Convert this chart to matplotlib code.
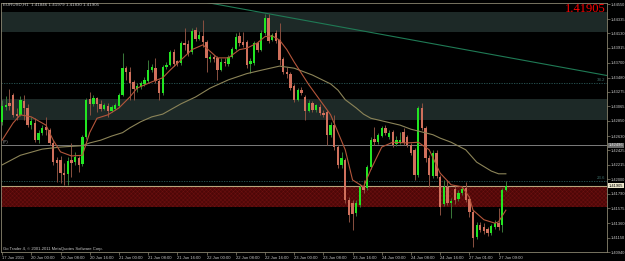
import matplotlib
matplotlib.use("Agg")
import matplotlib.pyplot as plt
import matplotlib.transforms as mtransforms
from matplotlib.patches import Rectangle

symbol_info = "EURUSD,H1  1.41846 1.41979 1.41830 1.41905"
last_price_text = "1.41905"
last_price = 1.41905
copyright_text = "Go Trader 4, \u00a9 2001-2011 MetaQuotes Software Corp."

opens = [1.4284, 1.4305, 1.4311, 1.4323, 1.4295, 1.4294, 1.4314, 1.4304, 1.4279, 1.4282,
         1.4257, 1.4268, 1.4276, 1.4272, 1.4253, 1.4228, 1.4228, 1.4209, 1.4208, 1.4228,
         1.4225, 1.4231, 1.4222, 1.4262, 1.4317, 1.4310, 1.4319, 1.4310, 1.4303, 1.4307,
         1.4300, 1.4303, 1.4307, 1.4323, 1.4362, 1.4356, 1.4342, 1.4332, 1.4335, 1.4339,
         1.4343, 1.4359, 1.4362, 1.4343, 1.4326, 1.4364, 1.4367, 1.4386, 1.4373, 1.4370,
         1.4399, 1.4397, 1.4386, 1.4418, 1.4405, 1.4409, 1.4400, 1.4375, 1.4378, 1.4377,
         1.4359, 1.4371, 1.4368, 1.4378, 1.4390, 1.4409, 1.4400, 1.4400, 1.4368, 1.4370,
         1.4399, 1.4389, 1.4413, 1.4435, 1.4403, 1.4413, 1.4403, 1.4375, 1.4356, 1.4354,
         1.4336, 1.4316, 1.4330, 1.4320, 1.4300, 1.4311, 1.4301, 1.4305, 1.4297, 1.4298,
         1.4265, 1.4279, 1.4247, 1.4221, 1.4228, 1.4170, 1.4165, 1.4151, 1.4163, 1.4190,
         1.4187, 1.4218, 1.4259, 1.4254, 1.4263, 1.4275, 1.4262, 1.4269, 1.4251, 1.4253,
         1.4269, 1.4262, 1.4250, 1.4243, 1.4206, 1.4304, 1.4275, 1.4231, 1.4205, 1.4238,
         1.4203, 1.4164, 1.4189, 1.4165, 1.4186, 1.4171, 1.4180, 1.4187, 1.4171, 1.4152,
         1.4116, 1.4133, 1.4130, 1.4128, 1.4122, 1.4130, 1.4136, 1.4133, 1.41846]
highs = [1.4316, 1.4321, 1.4332, 1.4326, 1.4304, 1.4321, 1.4323, 1.4310, 1.4291, 1.4289,
         1.4272, 1.4279, 1.4291, 1.4275, 1.4257, 1.4233, 1.4234, 1.4224, 1.4233, 1.4253,
         1.4240, 1.4234, 1.4265, 1.4319, 1.4327, 1.4323, 1.4320, 1.4316, 1.4311, 1.4311,
         1.4308, 1.4311, 1.4326, 1.4384, 1.4365, 1.4364, 1.4345, 1.4340, 1.4343, 1.4349,
         1.4374, 1.4368, 1.4377, 1.4346, 1.4367, 1.4371, 1.4389, 1.4390, 1.4374, 1.4402,
         1.4421, 1.4403, 1.4421, 1.4422, 1.4416, 1.4432, 1.4403, 1.4383, 1.4381, 1.4380,
         1.4377, 1.4377, 1.4381, 1.4393, 1.4413, 1.4415, 1.4415, 1.4403, 1.4377, 1.4402,
         1.4402, 1.4418, 1.4441, 1.4441, 1.4413, 1.4418, 1.4428, 1.4378, 1.4364, 1.4356,
         1.4339, 1.4333, 1.4335, 1.4323, 1.4316, 1.4314, 1.4310, 1.4310, 1.4301, 1.4301,
         1.4284, 1.4294, 1.4250, 1.4240, 1.4231, 1.4174, 1.4170, 1.4170, 1.4193, 1.4199,
         1.4221, 1.4262, 1.4276, 1.4268, 1.4278, 1.4279, 1.4272, 1.4272, 1.4263, 1.4269,
         1.4275, 1.4265, 1.4253, 1.4246, 1.4307, 1.4311, 1.4278, 1.4235, 1.4243, 1.4243,
         1.4206, 1.4199, 1.4199, 1.4173, 1.4190, 1.4184, 1.4190, 1.4196, 1.4176, 1.4155,
         1.4138, 1.4138, 1.4136, 1.4130, 1.4135, 1.4141, 1.4158, 1.4187, 1.41979]
lows = [1.4279, 1.4301, 1.4301, 1.4291, 1.4286, 1.4292, 1.4286, 1.4276, 1.4273, 1.4254,
        1.4253, 1.4265, 1.4265, 1.4250, 1.4221, 1.4196, 1.4195, 1.4192, 1.4192, 1.4203,
        1.4221, 1.4211, 1.4219, 1.4259, 1.4294, 1.4307, 1.4298, 1.4300, 1.4301, 1.4291,
        1.4298, 1.4301, 1.4305, 1.4321, 1.4345, 1.4316, 1.4316, 1.4327, 1.4332, 1.4336,
        1.4340, 1.4356, 1.4340, 1.4316, 1.4323, 1.4361, 1.4365, 1.4365, 1.4365, 1.4367,
        1.4389, 1.4380, 1.4383, 1.4402, 1.4403, 1.4393, 1.4356, 1.4371, 1.4371, 1.4345,
        1.4358, 1.4365, 1.4365, 1.4377, 1.4389, 1.4394, 1.4393, 1.4362, 1.4355, 1.4367,
        1.4386, 1.4387, 1.4410, 1.4399, 1.4402, 1.4399, 1.4367, 1.4354, 1.4348, 1.4330,
        1.4313, 1.4314, 1.4323, 1.4286, 1.4298, 1.4298, 1.4298, 1.4294, 1.4291, 1.4250,
        1.4262, 1.4243, 1.4217, 1.4217, 1.4165, 1.4138, 1.4126, 1.4147, 1.4160, 1.4180,
        1.4184, 1.4215, 1.4250, 1.4251, 1.4262, 1.4265, 1.4259, 1.4247, 1.4249, 1.4251,
        1.4250, 1.4247, 1.4235, 1.4199, 1.4203, 1.4272, 1.4225, 1.4189, 1.4202, 1.4202,
        1.4148, 1.4161, 1.4163, 1.4144, 1.4164, 1.4168, 1.4177, 1.4167, 1.4145, 1.4101,
        1.4113, 1.4123, 1.4120, 1.4117, 1.4119, 1.4128, 1.4126, 1.4123, 1.41830]
closes = [1.4307, 1.4308, 1.4307, 1.4294, 1.4292, 1.4316, 1.4304, 1.4279, 1.4285, 1.4257,
          1.4268, 1.4275, 1.4272, 1.4253, 1.4225, 1.4224, 1.4209, 1.4206, 1.4227, 1.4224,
          1.4233, 1.4221, 1.4262, 1.4316, 1.4310, 1.4319, 1.4310, 1.4303, 1.4308, 1.4300,
          1.4305, 1.4308, 1.4323, 1.4362, 1.4356, 1.4340, 1.4332, 1.4336, 1.4340, 1.4345,
          1.4359, 1.4364, 1.4343, 1.4326, 1.4364, 1.4367, 1.4386, 1.4368, 1.4368, 1.4399,
          1.4396, 1.4383, 1.4416, 1.4405, 1.4410, 1.4400, 1.4377, 1.4378, 1.4375, 1.4359,
          1.4371, 1.4370, 1.4378, 1.4390, 1.4408, 1.4399, 1.4396, 1.4367, 1.4373, 1.4399,
          1.4389, 1.4413, 1.4435, 1.4402, 1.4410, 1.4402, 1.4374, 1.4356, 1.4354, 1.4333,
          1.4316, 1.4330, 1.4326, 1.4300, 1.4311, 1.4301, 1.4308, 1.4297, 1.4294, 1.4265,
          1.4279, 1.4247, 1.4221, 1.4231, 1.4170, 1.4148, 1.4149, 1.4165, 1.4189, 1.4184,
          1.4218, 1.4257, 1.4254, 1.4265, 1.4275, 1.4268, 1.4268, 1.4250, 1.4257, 1.4257,
          1.4253, 1.4250, 1.4238, 1.4206, 1.4304, 1.4275, 1.4231, 1.4206, 1.4238, 1.4205,
          1.4160, 1.4189, 1.4165, 1.4168, 1.4170, 1.4180, 1.4186, 1.4170, 1.4152, 1.4114,
          1.4133, 1.4126, 1.4125, 1.4122, 1.4132, 1.4136, 1.4130, 1.4184, 1.41905]

fast_ma_bars = [0, 3, 5, 8, 12, 14, 16, 19, 22, 24, 26, 29, 32, 35, 37, 41, 44, 46, 52, 55,
                59, 62, 65, 67, 70, 72, 74, 76, 78, 80, 84, 87, 90, 94, 96, 99, 101, 104, 107, 111,
                114, 117, 120, 123, 126, 128, 129, 132, 135, 136, 138]
fast_ma = [1.4257, 1.4282, 1.4294, 1.4291, 1.4279, 1.4257, 1.4240, 1.4234, 1.4235, 1.4268,
           1.4289, 1.4294, 1.4304, 1.4320, 1.4333, 1.4342, 1.4348, 1.4359, 1.4389, 1.4396,
           1.4377, 1.4377, 1.4389, 1.4391, 1.4399, 1.4408, 1.4409, 1.4403, 1.4389, 1.4371,
           1.4338, 1.4316, 1.4294, 1.4243, 1.4199, 1.4189, 1.4214, 1.4247, 1.4254, 1.4253,
           1.4254, 1.4243, 1.4209, 1.4192, 1.4189, 1.4174, 1.4155, 1.4141, 1.4136, 1.4138,
           1.4155]
slow_ma_bars = [0, 5, 11, 16, 22, 24, 27, 30, 33, 35, 38, 41, 44, 46, 49, 53, 57, 62, 67, 71,
                76, 80, 85, 90, 92, 94, 97, 99, 101, 105, 109, 112, 115, 118, 120, 123, 127, 130,
                134, 136, 138]
slow_ma = [1.4221, 1.4235, 1.4244, 1.4247, 1.4249, 1.4253, 1.4257, 1.4263, 1.4268, 1.4275,
           1.4284, 1.4291, 1.4295, 1.4301, 1.4310, 1.4320, 1.4333, 1.4345, 1.4354, 1.4359,
           1.4365, 1.4362, 1.4352, 1.4339, 1.4330, 1.4316, 1.4304, 1.4295, 1.4289, 1.4284,
           1.4279, 1.4273, 1.4269, 1.4265, 1.4260, 1.4254, 1.4243, 1.4225, 1.4212, 1.4208,
           1.4208]

date_tick_bars = [0, 8, 16, 24, 32, 40, 48, 56, 64, 72, 80, 88, 96, 104, 112, 120, 128, 136]
date_tick_labels = ["17 Jun 2011", "20 Jun 00:00", "20 Jun 08:00", "20 Jun 16:00",
                    "21 Jun 00:00", "21 Jun 08:00", "21 Jun 16:00", "22 Jun 00:00",
                    "22 Jun 08:00", "22 Jun 16:00", "23 Jun 00:00", "23 Jun 08:00",
                    "23 Jun 16:00", "24 Jun 00:00", "24 Jun 08:00", "24 Jun 16:00",
                    "27 Jun 01:00", "27 Jun 09:00"]
price_ticks = [1.44550, 1.44335, 1.44130, 1.43915, 1.43700, 1.43480, 1.43275, 1.43065,
               1.42850, 1.42630, 1.42425, 1.42215, 1.42000, 1.41790, 1.41575, 1.41360,
               1.41150, 1.40940]
price_tick_labels = ["%.5f" % p for p in price_ticks]

zone_top = (1.4414, 1.4444)
zone_mid = (1.4287, 1.4317)
zone_red = (1.4159, 1.4190)
pivot_level = 1.42496
fib_levels = [1.4341, 1.4198]
fib_labels = ["38.2", "23.6"]
trend_bars = [53.75, 166.0]
trend_prices = [1.4460, 1.4351]

BG = "#000000"
FRAME = "#8a8570"
TXT = "#c8c8c8"
SMALL = ["Liberation Sans", "DejaVu Sans"]
plt.rcParams["hatch.linewidth"] = 0.35

fig = plt.figure(figsize=(6.25, 2.61), dpi=100, facecolor=BG)
ax = fig.add_axes([1 / 625, 9 / 261, 606 / 625, 249 / 261])
ax.set_facecolor(BG)
xmin, xmax = -0.3, 165.7
ax.set_xlim(xmin, xmax)
ax.set_ylim(1.40940, 1.44570)

# zones
for lo, hi in (zone_top, zone_mid):
    ax.add_patch(Rectangle((xmin, lo), xmax - xmin, hi - lo, facecolor="#1d2927",
                           edgecolor="none", zorder=0))
ax.add_patch(Rectangle((xmin, zone_red[0]), xmax - xmin, zone_red[1] - zone_red[0],
                       facecolor="#4e0707", edgecolor="#6c1010", hatch="xxxxxxxx",
                       linewidth=0, zorder=0))

# levels
ax.axhline(pivot_level, color="#7c7c7c", lw=0.7, zorder=1)
for lvl, lab in zip(fib_levels, fib_labels):
    ax.axhline(lvl, color="#2c5c5a", lw=0.6, ls=(0, (1.5, 1.5)), zorder=1)
    ax.text(xmax - 0.4, lvl + 0.00012, lab, color="#3e6e6a", fontsize=3.2,
            family=SMALL, ha="right", va="bottom", zorder=2)
ax.axhline(last_price, color="#b8a57c", lw=0.8, zorder=1)
ax.plot(trend_bars, trend_prices, color="#1f7a55", lw=0.8, zorder=2)

# candles
up_body, dn_body = "#22e622", "#d0705c"
up_wick, dn_wick = "#3a7a3a", "#8a5040"
xs = list(range(len(opens)))
wick_colors = [up_wick if c >= o else dn_wick for o, c in zip(opens, closes)]
ax.vlines(xs, lows, highs, colors=wick_colors, lw=0.7, zorder=3)
bottoms = [min(o, c) for o, c in zip(opens, closes)]
heights = [max(abs(c - o), 0.00008) for o, c in zip(opens, closes)]
body_colors = [up_body if c >= o else dn_body for o, c in zip(opens, closes)]
ax.bar(xs, heights, bottom=bottoms, width=0.64, color=body_colors, linewidth=0, zorder=4)

# moving averages
ax.plot(slow_ma_bars, slow_ma, color="#8c8458", lw=0.8, zorder=5)
ax.plot(fast_ma_bars, fast_ma, color="#b4553a", lw=0.8, zorder=5)

# axes styling
for s in ax.spines.values():
    s.set_color(FRAME)
    s.set_linewidth(0.6)
ax.yaxis.tick_right()
ax.set_yticks(price_ticks)
ax.set_yticklabels(price_tick_labels)
ax.tick_params(axis="y", colors=FRAME, labelcolor=TXT, length=2, width=0.5,
               pad=0.8, labelsize=2.9)
for t in ax.get_yticklabels():
    t.set_family(SMALL)
ax.set_xticks(date_tick_bars)
ax.set_xticklabels(date_tick_labels, ha="left")
ax.tick_params(axis="x", colors=FRAME, labelcolor=TXT, length=2, width=0.5,
               pad=1.2, labelsize=3.0)
for t in ax.get_xticklabels():
    t.set_family(SMALL)

# right-axis boxes
trans = mtransforms.blended_transform_factory(ax.transAxes, ax.transData)
ax.text(1.003, pivot_level, "%.5f" % pivot_level, transform=trans, fontsize=2.9,
        family=SMALL, color="#e8e8e8", ha="left", va="center", clip_on=False,
        bbox=dict(boxstyle="square,pad=0.12", facecolor="#6a6a6a", edgecolor="none"))
ax.text(1.003, last_price, last_price_text, transform=trans, fontsize=2.9,
        family=SMALL, color="#000000", ha="left", va="center", clip_on=False,
        bbox=dict(boxstyle="square,pad=0.12", facecolor="#ece6cc", edgecolor="none"))

# texts
fig.text(3 / 625, 1 - 5 / 261, symbol_info, color=TXT, fontsize=3.2, family=SMALL,
         ha="left", va="center")
fig.text(606 / 625, 1 - 9 / 261, last_price_text, color="#ff0000", fontsize=9,
         family=["Liberation Serif", "DejaVu Serif"], ha="right", va="center")
fig.text(3 / 625, 1 - 249 / 261, copyright_text, color=TXT, fontsize=3.0, family=SMALL,
         ha="left", va="center")
ax.text(xmin + 0.4, pivot_level + 0.00012, "(P)", color="#9a9a9a", fontsize=3.2,
        family=SMALL, ha="left", va="bottom", zorder=6)

fig.savefig("out.png", dpi=100, facecolor=BG)
